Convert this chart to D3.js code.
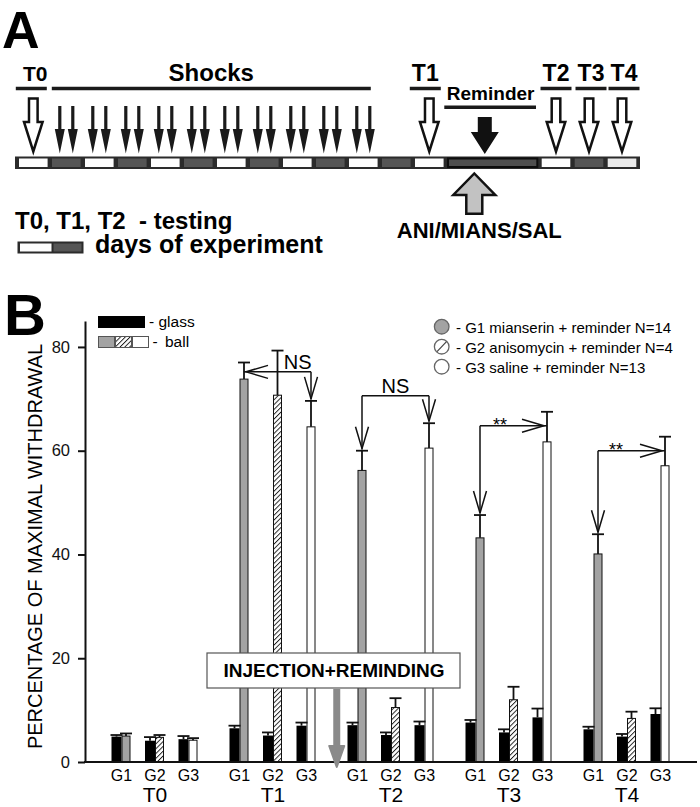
<!DOCTYPE html>
<html>
<head>
<meta charset="utf-8">
<script src="https://cdn.jsdelivr.net/npm/d3@7"></script>
<style>
  body { margin: 0; background: #fff; }
  svg { display: block; font-family: "Liberation Sans", Arial, Helvetica, sans-serif; }
</style>
</head>
<body>
<div id="app"></div>
<script>
// ---- panel A: timeline ----
const dayKinds = ["light", "dark", "light", "dark", "light", "dark", "light", "dark", "light",
  "dark", "light", "dark", "light", "reminder", "light", "dark", "pale"];
const dayWidths = [1, 1, 1, 1, 1, 1, 1, 1, 1, 1, 1, 1, 1, 2.84, 1, 1, 1];
const shockDays = [1, 2, 3, 4, 5, 6, 7, 8, 9, 10];
const testDays = [0, 12, 14, 15, 16];
const testNames = ["T0", "T1", "T2", "T3", "T4"];

// ---- panel B: bars ----
const tests = ["T0", "T1", "T2", "T3", "T4"];
const groups = ["G1", "G2", "G3"];
const glassMean = [[4.9, 4.1, 4.4], [6.5, 5.1, 7.0], [7.1, 5.2, 7.1], [7.6, 5.7, 8.6], [6.3, 4.9, 9.25]];
const glassErr = [[0.3, 0.7, 0.6], [0.5, 0.6, 0.6], [0.5, 0.5, 0.7], [0.5, 0.6, 1.7], [0.5, 0.5, 1.1]];
const ballMean = [[5.0, 4.75, 4.2], [73.8, 70.7, 64.6], [56.2, 10.5, 60.5], [43.2, 12.0, 61.7], [40.1, 8.4, 57.1]];
const ballErr = [[0.5, 0.45, 0.4], [3.2, 8.6, 5.0], [3.8, 1.8, 4.8], [4.4, 2.5, 5.8], [3.8, 1.3, 5.6]];
const yTicks = [0, 20, 40, 60, 80];
const legendNames = ["- G1 mianserin + reminder N=14", "- G2 anisomycin + reminder N=4", "- G3 saline + reminder N=13"];

// comparisons drawn over the bars
const compTests = ["T1", "T2", "T3", "T4"];
const compLabels = ["NS", "NS", "**", "**"];
const compLevels = [75.2, 70.6, 64.8, 60.0];
const compLeft = ["left", "down", "down", "down"];
const compRight = ["down", "down", "right", "right"];

const width = 700;
const height = 807;

const svg = d3.select("#app").append("svg")
  .attr("width", width)
  .attr("height", height);

const defs = svg.append("defs");
defs.append("pattern")
  .attr("id", "hatch")
  .attr("patternUnits", "userSpaceOnUse")
  .attr("width", 3.4)
  .attr("height", 3.4)
  .attr("patternTransform", "rotate(45)")
  .call(p => p.append("rect").attr("width", 3.4).attr("height", 3.4).attr("fill", "#fff"))
  .append("line")
  .attr("x1", 0.5).attr("y1", 0).attr("x2", 0.5).attr("y2", 3.4)
  .attr("stroke", "#111").attr("stroke-width", 0.9);

// ================= PANEL A =================
svg.append("text").text("A")
  .attr("x", 2).attr("y", 47.5)
  .style("font-size", "52px").style("font-weight", "bold");

const starts = Array.from(d3.cumsum([0, ...dayWidths]));
const dayX = d3.scaleLinear().domain([0, d3.sum(dayWidths)]).range([16.8, 638.5]);
const segCenter = i => dayX(starts[i] + dayWidths[i] / 2);

const barTop = 156.5, barH = 12.5;
svg.append("rect")
  .attr("x", 15).attr("y", barTop)
  .attr("width", dayX.range()[1] + 1.5 - 15).attr("height", barH)
  .attr("fill", "#2b2b2b");

const kindFill = { light: "#fdfdfd", dark: "#555", pale: "#eaeaea", reminder: "#4e4e4e" };
svg.append("g").selectAll("rect")
  .data(dayKinds)
  .join("rect")
  .attr("x", (d, i) => dayX(starts[i]) + 2.2)
  .attr("y", barTop + 2)
  .attr("width", (d, i) => dayX(starts[i + 1]) - dayX(starts[i]) - 4.4)
  .attr("height", barH - 4)
  .attr("fill", d => kindFill[d])
  .attr("stroke", d => d === "reminder" ? "#0d0d0d" : "none")
  .attr("stroke-width", 2);

// shock arrows (filled, thin), two per shock day
const shockArrow = cx =>
  `M${cx - 1.6},106 L${cx + 1.6},106 L${cx + 1.6},129 L${cx + 5},129 L${cx},153.5 L${cx - 5},129 L${cx - 1.6},129 Z`;
svg.append("g").selectAll("path")
  .data(shockDays.flatMap(d => [-6.5, 6.5].map(o => segCenter(d) + o)))
  .join("path")
  .attr("d", shockArrow)
  .attr("fill", "#1a1a1a");

// open test arrows
const openArrow = cx =>
  `M${cx - 4.3},98.5 L${cx + 4.3},98.5 L${cx + 4.3},122 L${cx + 9.3},122 L${cx},151.5 L${cx - 9.3},122 L${cx - 4.3},122 Z`;
svg.append("g").selectAll("path")
  .data(testDays)
  .join("path")
  .attr("d", d => openArrow(segCenter(d)))
  .attr("fill", "#fff")
  .attr("stroke", "#111")
  .attr("stroke-width", 2.5)
  .attr("stroke-linejoin", "miter");

// header lines and labels
const headerShift = [-2, -4, 0, 2, 2];
const headers = svg.append("g");
testDays.forEach((d, i) => {
  const c = segCenter(d) + headerShift[i];
  headers.append("line")
    .attr("x1", c - 15.5).attr("x2", c + 15.5)
    .attr("y1", 88.5).attr("y2", 88.5)
    .attr("stroke", "#1a1a1a").attr("stroke-width", 3.5);
  headers.append("text").text(testNames[i])
    .attr("x", c + (i === 0 ? 4 : 0)).attr("y", 81)
    .attr("text-anchor", "middle")
    .style("font-size", i === 0 ? "21px" : "23px").style("font-weight", "bold");
});

const shockL = dayX(starts[1]) + 2, shockR = dayX(starts[11]) - 9;
headers.append("line")
  .attr("x1", shockL).attr("x2", shockR)
  .attr("y1", 88.5).attr("y2", 88.5)
  .attr("stroke", "#1a1a1a").attr("stroke-width", 3.5);
headers.append("text").text("Shocks")
  .attr("x", (shockL + shockR) / 2).attr("y", 81)
  .attr("text-anchor", "middle")
  .style("font-size", "24px").style("font-weight", "bold");

// reminder
const remL = dayX(starts[13]), remR = dayX(starts[14]);
headers.append("line")
  .attr("x1", remL - 1.5).attr("x2", remR - 3.5)
  .attr("y1", 107.3).attr("y2", 107.3)
  .attr("stroke", "#1a1a1a").attr("stroke-width", 3.5);
headers.append("text").text("Reminder")
  .attr("x", (remL + remR) / 2 - 2).attr("y", 100)
  .attr("text-anchor", "middle")
  .style("font-size", "19px").style("font-weight", "bold");

const rc = remL + 39;
svg.append("path")
  .attr("d", `M${rc - 7},117 L${rc + 7},117 L${rc + 7},132 L${rc + 14},132 L${rc},154 L${rc - 14},132 L${rc - 7},132 Z`)
  .attr("fill", "#111");

// injection arrow (up, gray)
const ac = remL + 28.5;
svg.append("path")
  .attr("d", `M${ac - 8},213.8 L${ac + 8},213.8 L${ac + 8},195 L${ac + 21},195 L${ac},173.5 L${ac - 21},195 L${ac - 8},195 Z`)
  .attr("fill", "#c2c2c2")
  .attr("stroke", "#111")
  .attr("stroke-width", 2.5);
svg.append("text").text("ANI/MIANS/SAL")
  .attr("x", ac + 5).attr("y", 237.5)
  .attr("text-anchor", "middle")
  .style("font-size", "22px").style("font-weight", "bold");

// panel A legend
svg.append("text").text("T0, T1, T2\u00a0\u00a0- testing")
  .attr("x", 15).attr("y", 228.5)
  .style("font-size", "24px").style("font-weight", "bold");
svg.append("rect").attr("x", 17.5).attr("y", 241.5).attr("width", 66).attr("height", 12).attr("fill", "#2b2b2b");
svg.append("rect").attr("x", 20).attr("y", 243.5).attr("width", 31.5).attr("height", 8).attr("fill", "#fdfdfd");
svg.append("rect").attr("x", 53.5).attr("y", 243.5).attr("width", 28).attr("height", 8).attr("fill", "#555");
svg.append("text").text("days of experiment")
  .attr("x", 95).attr("y", 253)
  .style("font-size", "25px").style("font-weight", "bold");

// ================= PANEL B =================
svg.append("text").text("B")
  .attr("x", 4).attr("y", 335)
  .style("font-size", "58px").style("font-weight", "bold");

const gx = d3.scaleBand().domain(tests).range([96, 686]);
const ix = d3.scalePoint().domain(groups).range([-33.5, 33.5]);
const y = d3.scaleLinear().domain([0, 85]).range([762, 321]);
const cx = (t, g) => gx(t) + gx.bandwidth() / 2 + ix(g);

const rows = tests.flatMap((t, i) => groups.map((g, j) => ({
  t, g,
  glass: glassMean[i][j], gErr: glassErr[i][j],
  ball: ballMean[i][j], bErr: ballErr[i][j]
})));
const ballFill = { G1: "#a3a3a3", G2: "url(#hatch)", G3: "#fff" };

const bars = svg.append("g");
// glass (black)
bars.selectAll(".glass")
  .data(rows)
  .join("rect")
  .attr("class", "glass")
  .attr("x", d => cx(d.t, d.g) - 10)
  .attr("y", d => y(d.glass))
  .attr("width", 10)
  .attr("height", d => y(0) - y(d.glass))
  .attr("fill", "#000");
// ball
bars.selectAll(".ball")
  .data(rows)
  .join("rect")
  .attr("class", "ball")
  .attr("x", d => cx(d.t, d.g) + 0.5)
  .attr("y", d => y(d.ball))
  .attr("width", 8)
  .attr("height", d => y(0) - y(d.ball))
  .attr("fill", d => ballFill[d.g])
  .attr("stroke", "#111")
  .attr("stroke-width", 1);

// error bars
const errs = svg.append("g").attr("stroke", "#111").attr("stroke-width", 1.8);
rows.forEach(d => {
  const c = cx(d.t, d.g);
  const gxm = c - 5;
  errs.append("line").attr("x1", gxm).attr("x2", gxm).attr("y1", y(d.glass)).attr("y2", y(d.glass + d.gErr));
  errs.append("line").attr("x1", gxm - 6).attr("x2", gxm + 6).attr("y1", y(d.glass + d.gErr)).attr("y2", y(d.glass + d.gErr));
  const bxm = c + 4.5;
  errs.append("line").attr("x1", bxm).attr("x2", bxm).attr("y1", y(d.ball)).attr("y2", y(d.ball + d.bErr));
  errs.append("line").attr("x1", bxm - 6).attr("x2", bxm + 6).attr("y1", y(d.ball + d.bErr)).attr("y2", y(d.ball + d.bErr));
});

// axes
const yAxis = d3.axisLeft(y).tickValues(yTicks).tickSize(7).tickSizeOuter(0).tickPadding(8);
const ya = svg.append("g").attr("transform", "translate(85,0)").call(yAxis);
ya.select(".domain").attr("stroke", "#111").attr("stroke-width", 2);
ya.selectAll(".tick line").attr("stroke", "#111").attr("stroke-width", 2);
ya.selectAll(".tick text")
  .style("font-size", "16.5px")
  .style("font-family", "'Liberation Sans', Arial, sans-serif")
  .attr("fill", "#111");

svg.append("line")
  .attr("x1", 84).attr("x2", 697)
  .attr("y1", y(0)).attr("y2", y(0))
  .attr("stroke", "#111").attr("stroke-width", 2);

svg.append("text").text("PERCENTAGE OF MAXIMAL WITHDRAWAL")
  .attr("transform", "translate(42,546.5) rotate(-90)")
  .attr("text-anchor", "middle")
  .style("font-size", "20px");

// x labels
svg.append("g").selectAll("text")
  .data(rows)
  .join("text")
  .text(d => d.g)
  .attr("x", d => cx(d.t, d.g))
  .attr("y", 781)
  .attr("text-anchor", "middle")
  .style("font-size", "16px");
svg.append("g").selectAll("text")
  .data(tests)
  .join("text")
  .text(d => d)
  .attr("x", d => gx(d) + gx.bandwidth() / 2)
  .attr("y", 802)
  .attr("text-anchor", "middle")
  .style("font-size", "21px");

// comparisons
const openHead = (tx, ty, dx, dy) => {
  const len = 22, hw = 6.5;
  const bx = tx - dx * len, by = ty - dy * len;
  const px = -dy * hw, py = dx * hw;
  return `M${bx + px},${by + py} L${tx},${ty} L${bx - px},${by - py}`;
};
const comps = svg.append("g").attr("fill", "none").attr("stroke", "#111").attr("stroke-width", 1.5);
compTests.forEach((t, i) => {
  const ti = tests.indexOf(t);
  const x1 = cx(t, "G1") + 4.5, x2 = cx(t, "G3") + 4.5;
  const yl = y(compLevels[i]);
  comps.append("line").attr("x1", x1).attr("x2", x2).attr("y1", yl).attr("y2", yl);
  const ends = [[compLeft[i], x1, 0], [compRight[i], x2, 2]];
  ends.forEach(([kind, xe, j]) => {
    if (kind === "down") {
      const tip = y(ballMean[ti][j] + ballErr[ti][j]) - 2;
      comps.append("line").attr("x1", xe).attr("x2", xe).attr("y1", yl).attr("y2", tip);
      comps.append("path").attr("d", openHead(xe, tip, 0, 1));
    } else if (kind === "left") {
      comps.append("path").attr("d", openHead(xe + 2, yl, -1, 0));
    } else {
      comps.append("path").attr("d", openHead(xe - 3, yl, 1, 0));
    }
  });
  const isNS = compLabels[i] === "NS";
  const frac = [0.8, 0.5, 0.3, 0.27][i];
  svg.append("text").text(compLabels[i])
    .attr("x", x1 + frac * (x2 - x1))
    .attr("y", isNS ? yl - 3 : yl + 5)
    .attr("text-anchor", "middle")
    .style("font-size", isNS ? "20px" : "18px");
});

// injection box and arrow
svg.append("rect")
  .attr("x", 207).attr("y", 653).attr("width", 253).attr("height", 35)
  .attr("fill", "#fff").attr("stroke", "#555").attr("stroke-width", 1.2);
svg.append("text").text("INJECTION+REMINDING")
  .attr("x", 334).attr("y", 676.5)
  .attr("text-anchor", "middle")
  .style("font-size", "19px").style("font-weight", "bold");
const injX = (gx("T1") + gx.bandwidth() + gx("T2") + gx.bandwidth() / 2 - 33.5 - 10) / 2 - 3;
svg.append("line")
  .attr("x1", injX).attr("x2", injX).attr("y1", 689).attr("y2", 748)
  .attr("stroke", "#8a8a8a").attr("stroke-width", 7);
svg.append("path")
  .attr("d", `M${injX - 7.5},746 L${injX + 7.5},746 L${injX},767 Z`)
  .attr("fill", "#8a8a8a").attr("stroke", "#8a8a8a").attr("stroke-width", 2).attr("stroke-linejoin", "round");

// legends
const lg = svg.append("g");
lg.append("rect").attr("x", 98).attr("y", 316).attr("width", 47).attr("height", 12).attr("fill", "#000");
lg.append("text").text("- glass").attr("x", 149).attr("y", 327).style("font-size", "15.5px");
[["#a3a3a3", 98], ["url(#hatch)", 115], ["#fff", 132]].forEach(([f, x]) => {
  lg.append("rect").attr("x", x + 0.5).attr("y", 336.5).attr("width", 16).attr("height", 11)
    .attr("fill", f).attr("stroke", "#555").attr("stroke-width", 1);
});
lg.append("text").text("- ball").attr("x", 152.5).attr("y", 347).style("font-size", "15.5px").style("word-spacing", "3px");

const rl = svg.append("g");
legendNames.forEach((name, i) => {
  const ly = 326.7 + i * 20;
  rl.append("circle").attr("cx", 441.7).attr("cy", ly).attr("r", 7.3)
    .attr("fill", i === 0 ? "#a3a3a3" : "#fff").attr("stroke", "#666").attr("stroke-width", 1.3);
  if (i === 1) {
    rl.append("line").attr("x1", 437).attr("y1", ly + 5).attr("x2", 446.5).attr("y2", ly - 5)
      .attr("stroke", "#444").attr("stroke-width", 1.2);
  }
  rl.append("text").text(name).attr("x", 456).attr("y", ly + 6).style("font-size", "15px");
});
</script>
</body>
</html>
